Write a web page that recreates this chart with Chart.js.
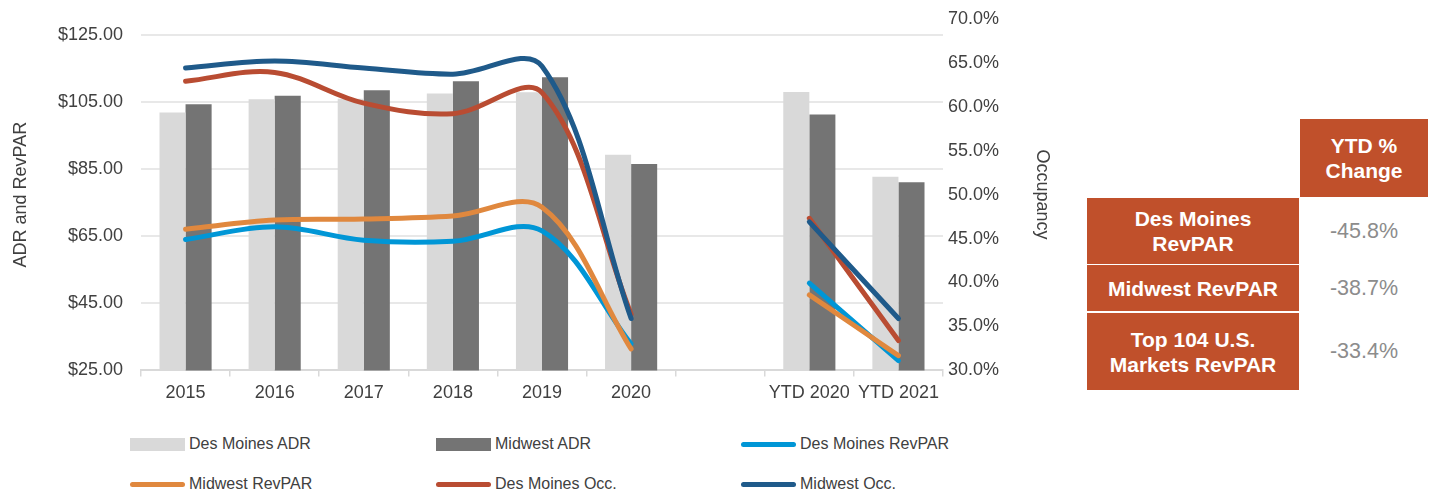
<!DOCTYPE html>
<html>
<head>
<meta charset="utf-8">
<script src="https://cdn.jsdelivr.net/npm/chart.js@4/dist/chart.umd.min.js"></script>
<style>
  body { margin: 0; background: #fff; font-family: "Liberation Sans", Arial, sans-serif; }
  #wrap { position: relative; width: 1432px; height: 496px; overflow: hidden; }
  #chartBox { position: absolute; left: 0; top: -10px; width: 1057px; height: 424px; }
  #legend { position: absolute; left: 0; top: 0; }
  .lg-item { position: absolute; display: flex; align-items: center; font-size: 16px; color: #404040; white-space: nowrap; }
  .lg-swatch { width: 55px; margin-right: 4px; }
  .tbl-cell { position: absolute; box-sizing: border-box; display: flex; align-items: center; justify-content: center; text-align: center; }
  .tbl-head { background: #c0502b; color: #fff; font-weight: bold; font-size: 21px; line-height: 25px; }
  .tbl-val { color: #8c8c8c; font-size: 21.5px; }
</style>
</head>
<body>
<div id="wrap">
  <div id="chartBox"><canvas id="hotelChart"></canvas></div>
  <div id="legend"></div>
  <div id="ytdTable"></div>
</div>
<script>
// Categories (blank slot separates full years from YTD)
const categories = ['2015', '2016', '2017', '2018', '2019', '2020', '', 'YTD 2020', 'YTD 2021'];

// ADR bars ($)
const desMoinesADR = [101.9, 105.8, 106.0, 107.5, 107.9, 89.3, null, 108.0, 82.7];
const midwestADR   = [104.3, 106.9, 108.5, 111.2, 112.4, 86.5, null, 101.3, 81.1];

// RevPAR lines ($)
const desMoinesRevPAR = [64.0, 67.8, 63.8, 63.5, 66.6, 32.9, null, 51.0, 27.9];
const midwestRevPAR   = [67.1, 69.8, 70.1, 71.0, 73.6, 31.4, null, 47.5, 29.4];

// Occupancy lines (%)
const desMoinesOcc = [62.9, 63.9, 60.4, 59.2, 61.6, 36.4, null, 47.3, 33.4];
const midwestOcc   = [64.4, 65.2, 64.4, 63.7, 64.6, 35.9, null, 46.9, 35.9];

// Axis ticks
const dollarTicks = [25, 45, 65, 85, 105, 125];
const occTicks = [30, 35, 40, 45, 50, 55, 60, 65, 70];
const dollarAxisMax = 129.8;   // right axis tops out above the left one

// Side table
const tableHeader = 'YTD %<br>Change';
const tableRows = ['Des Moines<br>RevPAR', 'Midwest RevPAR', 'Top 104 U.S.<br>Markets RevPAR'];
const tableValues = ['-45.8%', '-38.7%', '-33.4%'];

const colors = {
    dmADR: '#d9d9d9',
    mwADR: '#747474',
    dmRev: '#0096d6',
    mwRev: '#e0883e',
    dmOcc: '#b94c32',
    mwOcc: '#1f5a8a'
};

function lineSet(label, data, color, axis, order) {
    return {
        type: 'line',
        label: label,
        data: data,
        yAxisID: axis,
        borderColor: color,
        backgroundColor: color,
        borderWidth: 5,
        borderCapStyle: 'round',
        pointRadius: 0,
        tension: 0.35,
        spanGaps: false,
        order: order
    };
}

const datasets = [
    { type: 'bar', label: 'Des Moines ADR', data: desMoinesADR, yAxisID: 'y', backgroundColor: colors.dmADR,
      categoryPercentage: 0.585, barPercentage: 1.0, order: 10 },
    { type: 'bar', label: 'Midwest ADR', data: midwestADR, yAxisID: 'y', backgroundColor: colors.mwADR,
      categoryPercentage: 0.585, barPercentage: 1.0, order: 10 },
    lineSet('Des Moines RevPAR', desMoinesRevPAR, colors.dmRev, 'y', 4),
    lineSet('Midwest RevPAR', midwestRevPAR, colors.mwRev, 'y', 3),
    lineSet('Des Moines Occ.', desMoinesOcc, colors.dmOcc, 'y1', 2),
    lineSet('Midwest Occ.', midwestOcc, colors.mwOcc, 'y1', 1)
];

const tickFont = { family: '"Liberation Sans", Arial, sans-serif', size: 18 };

const ctx = document.getElementById('hotelChart').getContext('2d');
const hotelChart = new Chart(ctx, {
    data: { labels: categories, datasets: datasets },
    options: {
        responsive: true,
        maintainAspectRatio: false,
        animation: false,
        layout: { padding: { left: 6, top: 8, right: 0, bottom: 4 } },
        plugins: { legend: { display: false }, tooltip: { enabled: false } },
        scales: {
            x: {
                offset: true,
                grid: { offset: true, drawOnChartArea: false, drawTicks: true, tickLength: 6, color: '#d9d9d9', lineWidth: 1.5 },
                border: { display: true, color: '#d9d9d9', width: 2 },
                ticks: { color: '#404040', font: tickFont, padding: 6, maxRotation: 0, autoSkip: false }
            },
            y: {
                position: 'left',
                min: 25,
                max: dollarAxisMax,
                afterBuildTicks: axis => { axis.ticks = dollarTicks.map(v => ({ value: v })); },
                afterFit: axis => { axis.width = 135; },
                grid: { color: '#e8e8e8', lineWidth: 2, drawTicks: false },
                border: { display: false },
                ticks: { color: '#404040', font: tickFont, padding: 18,
                         callback: v => '$' + Number(v).toFixed(2) },
                title: { display: true, text: 'ADR and RevPAR', color: '#404040', font: tickFont }
            },
            y1: {
                position: 'right',
                min: 30,
                max: 70,
                afterBuildTicks: axis => { axis.ticks = occTicks.map(v => ({ value: v })); },
                afterFit: axis => { axis.width = 114; },
                grid: { display: false, drawTicks: false },
                border: { display: false },
                ticks: { color: '#404040', font: tickFont, padding: 5,
                         callback: v => Number(v).toFixed(1) + '%' },
                title: { display: true, text: 'Occupancy', color: '#404040', font: tickFont }
            }
        }
    }
});

// Legend laid out in a 3 x 2 grid like the original
const legendSlots = [
    { x: 130, y: 444 }, { x: 436, y: 444 }, { x: 741, y: 444 },
    { x: 130, y: 484 }, { x: 436, y: 484 }, { x: 741, y: 484 }
];
const legendOrder = [0, 1, 2, 3, 4, 5];
const legendEl = document.getElementById('legend');
legendOrder.forEach((dsIndex, i) => {
    const ds = hotelChart.data.datasets[dsIndex];
    const item = document.createElement('div');
    item.className = 'lg-item';
    item.style.left = legendSlots[i].x + 'px';
    item.style.top = (legendSlots[i].y - 10) + 'px';
    item.style.height = '20px';
    const sw = document.createElement('div');
    sw.className = 'lg-swatch';
    if (ds.type === 'bar') {
        sw.style.height = '13px';
        sw.style.background = ds.backgroundColor;
    } else {
        sw.style.height = '5px';
        sw.style.borderRadius = '3px';
        sw.style.background = ds.borderColor;
    }
    const txt = document.createElement('span');
    txt.textContent = ds.label;
    item.appendChild(sw);
    item.appendChild(txt);
    legendEl.appendChild(item);
});

// YTD % change table
const tableEl = document.getElementById('ytdTable');
function addCell(cls, html, left, top, width, height) {
    const c = document.createElement('div');
    c.className = 'tbl-cell ' + cls;
    c.innerHTML = html;
    c.style.left = left + 'px';
    c.style.top = top + 'px';
    c.style.width = width + 'px';
    c.style.height = height + 'px';
    tableEl.appendChild(c);
}
addCell('tbl-head', tableHeader, 1300, 119, 128, 78);
const rowTops = [198, 265, 313];
const rowHeights = [66, 46, 77];
tableRows.forEach((label, i) => {
    addCell('tbl-head', label, 1087, rowTops[i], 212, rowHeights[i]);
    addCell('tbl-val', tableValues[i], 1300, rowTops[i], 128, rowHeights[i]);
});
</script>
</body>
</html>
